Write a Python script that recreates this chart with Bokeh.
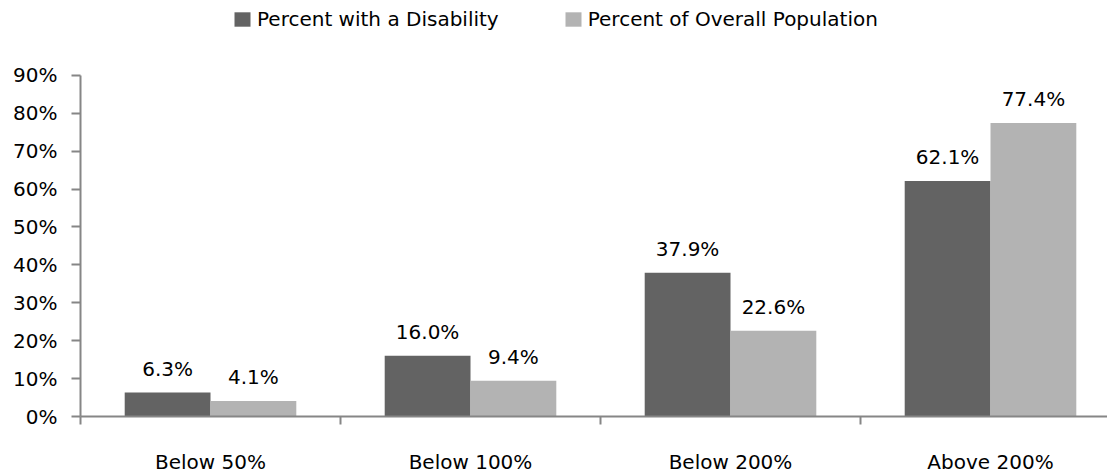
from bokeh.plotting import figure
from bokeh.models import (ColumnDataSource, FixedTicker, NumeralTickFormatter,
                          Range1d, Legend, LegendItem, LabelSet)
from bokeh.core.properties import value
from bokeh.embed import file_html
from bokeh.resources import INLINE
import numpy as np

# Poverty-level bands and the share of each group in them (fractions)
categories = ["Below 50%", "Below 100%", "Below 200%", "Above 200%"]
disability = [0.063, 0.160, 0.379, 0.621]
overall = [0.041, 0.094, 0.226, 0.774]
series_names = ["Percent with a Disability", "Percent of Overall Population"]
colors = ["#636363", "#b3b3b3"]
y_ticks = [i / 10 for i in range(10)]

FONT = "DejaVu Sans"
AXIS_GREY = "#868686"

bar_w = 0.33
idx = np.arange(len(categories))
centers = idx + 0.5

src_d = ColumnDataSource(dict(
    x=centers - bar_w / 2, top=disability,
    label=[f"{v * 100:.1f}%" for v in disability]))
src_o = ColumnDataSource(dict(
    x=centers + bar_w / 2, top=overall,
    label=[f"{v * 100:.1f}%" for v in overall]))

# the frame reaches the top of the canvas so the legend can sit above the
# 90% line; the axis itself is bounded to 0-90%
y_max = y_ticks[-1]
frame_h = 417
y_top = y_max * frame_h / 342

p = figure(width=1107, height=476, output_backend="svg", toolbar_location=None,
           x_range=Range1d(0, 3.95), y_range=Range1d(0, y_top),
           min_border_left=80, min_border_right=0,
           min_border_top=0, min_border_bottom=0)
p.outline_line_color = None
p.grid.visible = False
p.background_fill_color = "white"
p.border_fill_color = "white"

r_d = p.vbar(x="x", top="top", width=bar_w, source=src_d,
             fill_color=colors[0], line_color=None)
r_o = p.vbar(x="x", top="top", width=bar_w, source=src_o,
             fill_color=colors[1], line_color=None)

for src in (src_d, src_o):
    p.add_layout(LabelSet(x="x", y="top", text="label", source=src,
                          text_align="center", text_baseline="alphabetic",
                          y_offset=17, text_font=value(FONT),
                          text_font_size=value("20px"), text_color="#000000"))

# y axis: percentages
yax = p.yaxis[0]
yax.ticker = FixedTicker(ticks=y_ticks)
yax.bounds = (0, y_max)
yax.formatter = NumeralTickFormatter(format="0%")
yax.axis_line_color = AXIS_GREY
yax.axis_line_width = 2
yax.major_tick_line_color = AXIS_GREY
yax.major_tick_line_width = 2
yax.major_tick_in = 0
yax.major_tick_out = 9
yax.minor_tick_line_color = None
yax.major_label_standoff = 14
yax.major_label_text_font = FONT
yax.major_label_text_font_size = "20px"
yax.major_label_text_color = "#000000"

# x axis: labels at category centres, separator ticks between categories
xax = p.xaxis[0]
xax.ticker = FixedTicker(ticks=list(centers), minor_ticks=list(idx.astype(float)))
xax.major_label_overrides = {float(c): name for c, name in zip(centers, categories)}
xax.axis_line_color = AXIS_GREY
xax.axis_line_width = 2
xax.major_tick_line_color = None
xax.major_tick_in = 0
xax.major_tick_out = 0
xax.minor_tick_line_color = AXIS_GREY
xax.minor_tick_line_width = 2
xax.minor_tick_in = 0
xax.minor_tick_out = 8
xax.major_label_standoff = 25
xax.major_label_text_font = FONT
xax.major_label_text_font_size = "20px"
xax.major_label_text_color = "#000000"

legend = Legend(items=[LegendItem(label=series_names[0], renderers=[r_d]),
                       LegendItem(label=series_names[1], renderers=[r_o])],
                orientation="horizontal", location=(152, 385),
                glyph_width=20, glyph_height=18, label_standoff=5,
                spacing=64, padding=0, margin=0,
                border_line_color=None, background_fill_alpha=0,
                label_text_font=FONT, label_text_font_size="20px",
                label_text_color="#000000")
p.add_layout(legend, "center")

open("out.html", "w").write(file_html(p, INLINE))
